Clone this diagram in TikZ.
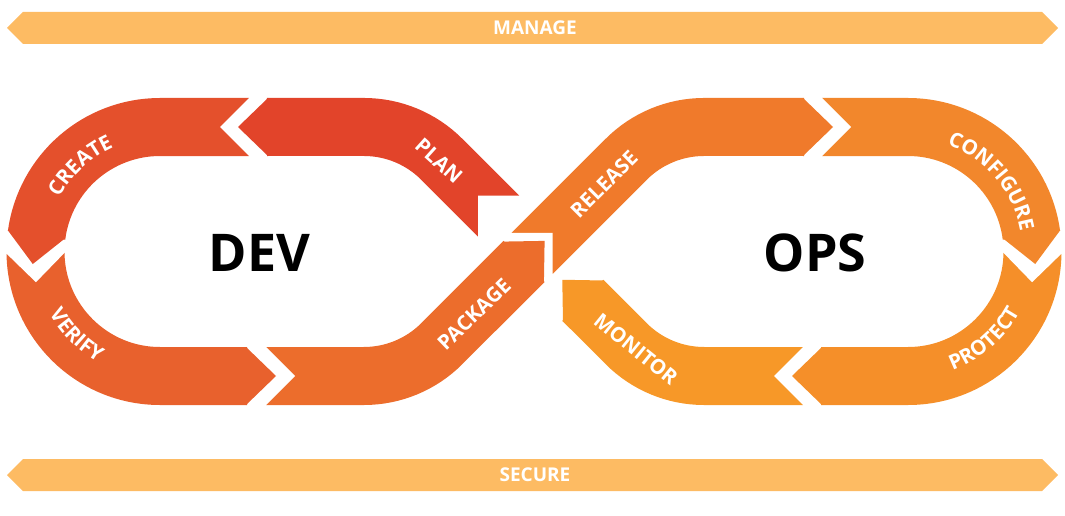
\documentclass[tikz,border=0pt]{standalone}
\usepackage{fontspec}
\setmainfont{Open Sans}
\usepackage{tikz}
\usetikzlibrary{calc,decorations.text}

\definecolor{barcol}{RGB}{253,187,99}
\definecolor{plancol}{RGB}{226,68,42}
\definecolor{createcol}{RGB}{228,80,44}
\definecolor{verifycol}{RGB}{232,97,45}
\definecolor{packagecol}{RGB}{236,109,44}
\definecolor{releasecol}{RGB}{240,122,43}
\definecolor{configurecol}{RGB}{242,135,44}
\definecolor{protectcol}{RGB}{245,143,41}
\definecolor{monitorcol}{RGB}{247,152,40}

\newcommand\barfont{\fontsize{19}{19}\selectfont\bfseries}
\newcommand\labelfont{\fontsize{20.5}{20.5}\selectfont\bfseries}
% arrow head of a stage: cut point, flow angle, colour
\newcommand\tipat[3]{\fill[#3] ($(#1)+(#2+90:29)+(#2:-1)$) -- ($(#1)+(#2:29)$) -- ($(#1)+(#2-90:29)+(#2:-1)$) -- cycle;}
% notch at the tail of a stage: cut point, flow angle
\newcommand\notchat[2]{\fill[white] ($(#1)+(#2+90:31)+(#2:-2)$) -- ($(#1)+(#2:29)$) -- ($(#1)+(#2-90:31)+(#2:-2)$) -- cycle;}

\begin{document}
\begin{tikzpicture}[
    x=1pt, y=-1pt,
    band/.style={line width=58pt},
    bar/.style={fill=barcol},
    barlabel/.style={text=white, font=\barfont},
    steplabel/.style={text=white, font=\labelfont, inner sep=0pt},
    arclabel/.style={decorate, decoration={text along path, text align=center, text color=white, text={|\labelfont|#1}}},
    biglabel/.style={font=\fontsize{52}{52}\selectfont\bfseries}
]
\useasboundingbox (0,0) rectangle (1065,516);

% centres of the two loops and the crossing
\coordinate (devc) at (160,251.5);
\coordinate (opsc) at (908,251.5);
\coordinate (cross) at (534,251.5);

% manage and secure bars
\fill[bar] (7,28) -- (23,12) -- (1042,12) -- (1058,28) -- (1042,44) -- (23,44) -- cycle;
\node[barlabel] (manage) at (535,28) {MANAGE};
\fill[bar] (7,475) -- (23,459) -- (1042,459) -- (1058,475) -- (1042,491) -- (23,491) -- cycle;
\node[barlabel] (secure) at (535,475) {SECURE};

% cut points of the stages
\coordinate (plantail) at ($(cross)+(-135:50)$);
\coordinate (planhead) at (267,127);
\coordinate (createtail) at (249,127);
\coordinate (createhead) at ($(devc)+(187.5:124.5)$);
\coordinate (verifytail) at ($(devc)+(179.2:124.5)$);
\coordinate (verifyhead) at (247,376);
\coordinate (packagetail) at (266,376);
\coordinate (packagehead) at ($(cross)+(135:14)$);
\coordinate (releasetail) at ($(cross)+(135:2.5)$);
\coordinate (releasehead) at (804,127);
\coordinate (configuretail) at (822,127);
\coordinate (configurehead) at ($(opsc)+(-7.5:124.5)$);
\coordinate (protecttail) at ($(opsc)+(0.8:124.5)$);
\coordinate (protecthead) at (821,376);
\coordinate (monitortail) at (803,376);
\coordinate (monitorhead) at ($(cross)+(45:69)$);

% the stages
\draw[band, plancol] (plantail) -- (441.7,159.2) arc[start angle=-45, end angle=-90, radius=110] -- (planhead);
\draw[band, createcol] (createtail) -- (160,127) arc[start angle=270, end angle=187.5, radius=124.5];
\draw[band, verifycol] (verifytail) arc[start angle=179.2, end angle=90, radius=124.5] -- (verifyhead);
\draw[band, packagecol] (packagetail) -- (363.9,376) arc[start angle=90, end angle=45, radius=110] -- (packagehead);
\draw[band, releasecol] (releasetail) -- (626.3,159.2) arc[start angle=225, end angle=270, radius=110] -- (releasehead);
\draw[band, configurecol] (configuretail) -- (908,127) arc[start angle=-90, end angle=-7.5, radius=124.5];
\draw[band, protectcol] (protecttail) arc[start angle=0.8, end angle=90, radius=124.5] -- (protecthead);
\draw[band, monitorcol] (monitortail) -- (704.1,376) arc[start angle=90, end angle=135, radius=110] -- (monitorhead);

% notches and arrow heads
\notchat{plantail}{-135}
\notchat{createtail}{180}
\notchat{verifytail}{89.2}
\notchat{packagetail}{0}
\notchat{releasetail}{-45}
\notchat{configuretail}{0}
\notchat{protecttail}{90.8}
\notchat{monitortail}{180}
\tipat{planhead}{180}{plancol}
\tipat{createhead}{97.5}{createcol}
\tipat{verifyhead}{0}{verifycol}
\tipat{packagehead}{-45}{packagecol}
\tipat{releasehead}{0}{releasecol}
\tipat{configurehead}{82.5}{configurecol}
\tipat{protecthead}{180}{protectcol}
\tipat{monitorhead}{-135}{monitorcol}

% labels
\path[arclabel=CREATE] ($(devc)+(187:114)$) arc[start angle=187, end angle=267, radius=114];
\path[arclabel=VERIFY] ($(devc)+(175:127)$) arc[start angle=175, end angle=95, radius=127];
\path[arclabel=CONFIGURE] ($(opsc)+(-82:114)$) arc[start angle=-82, end angle=2, radius=114];
\path[arclabel=PROTECT] ($(opsc)+(89:127)$) arc[start angle=89, end angle=9, radius=127];
\node[steplabel, rotate=-42] (plan) at (439,161) {PLAN};
\node[steplabel, rotate=44] (package) at (474,314) {PACKAGE};
\node[steplabel, rotate=45] (release) at (604,184) {RELEASE};
\node[steplabel, rotate=-39] (monitor) at (636,349) {MONITOR};
\node[biglabel] (dev) at (259.5,252.5) {DEV};
\node[biglabel] (ops) at (815,252.5) {OPS};

\end{tikzpicture}
\end{document}
